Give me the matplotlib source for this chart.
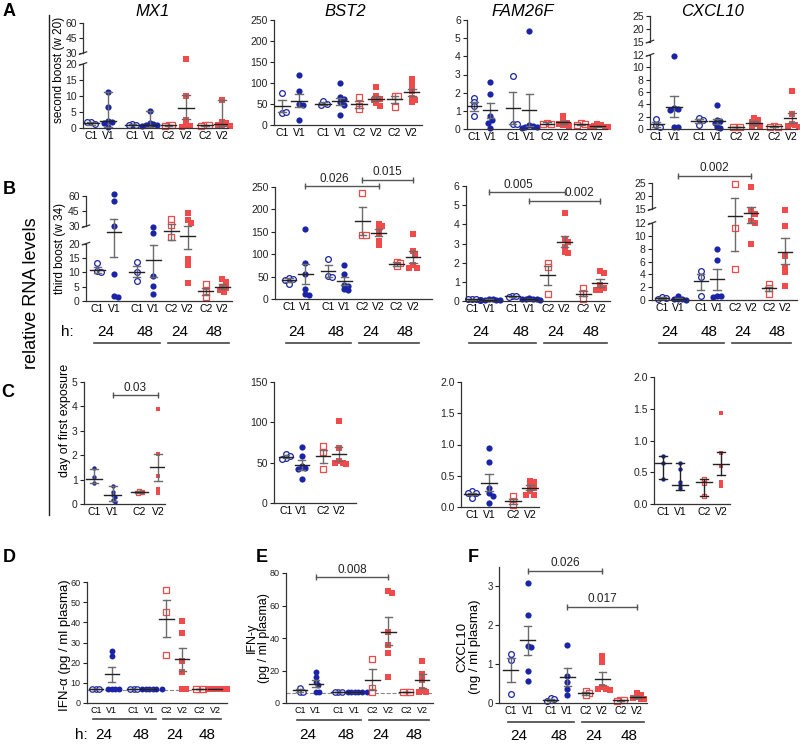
import numpy as np
import matplotlib
matplotlib.use("Agg")
import matplotlib.pyplot as plt

plt.rcParams['font.family'] = ['Liberation Sans', 'DejaVu Sans']

BLUE = '#1a24a6'
RED = '#f04a4a'
GREY = '#6b6b6b'
W, H = 800, 745

grp8 = ['C1', 'V1', 'C1', 'V1', 'C2', 'V2', 'C2', 'V2']
grp4 = ['C1', 'V1', 'C2', 'V2']
pos8 = [0, 1, 2.4, 3.4, 4.5, 5.5, 6.6, 7.6]
pos4 = [0, 1, 2.4, 3.4]
hours = ['24', '48', '24', '48']

# ---- row A : second boost (w 20)
a_mx1_pts = [[2.0, 1.2, 1.8], [11.2, 6.6, 2.3, 1.9, 1.5, 0.3], [1.2, 1.0, 1.0],
             [5.3, 1.6, 1.2, 1.0, 0.8, 0.5], [0.9, 0.8, 0.7], [25, 10, 2.5, 1.0, 0.6, 0.3],
             [1.0, 0.8, 0.6], [8.8, 2.0, 1.5, 1.0, 0.8, 0.6]]
a_mx1_mid = [1.5, 2.2, 1.0, 1.0, 0.8, 6.4, 0.8, 1.3]
a_mx1_lo = [1.0, 0.2, 0.9, 0.3, 0.6, 2.7, 0.6, 0.5]
a_mx1_hi = [2.0, 11.2, 1.2, 5.3, 1.0, 10.2, 1.0, 8.8]

a_bst2_pts = [[77, 28, 32], [120, 80, 50, 48, 13], [56, 50, 48], [99, 66, 62, 55, 48, 23],
              [66, 46, 37], [91, 68, 62, 60, 52, 45], [70, 68, 43], [110, 96, 80, 65, 60, 55]]
a_bst2_mid = [45, 58, 51, 56, 50, 63, 61, 78]
a_bst2_lo = [30, 42, 48, 47, 41, 56, 52, 70]
a_bst2_hi = [60, 73, 55, 65, 58, 70, 70, 86]

a_fam_pts = [[1.72, 1.5, 1.25, 0.72], [2.6, 1.95, 0.7, 0.5, 0.35, 0.05], [2.9, 0.28, 0.28],
             [5.4, 0.2, 0.15, 0.12, 0.1, 0.08], [0.35, 0.3, 0.28], [0.72, 0.45, 0.35, 0.3, 0.22, 0.15],
             [0.32, 0.28, 0.22], [0.25, 0.2, 0.15, 0.12, 0.1, 0.1]]
a_fam_mid = [1.25, 1.05, 1.13, 1.03, 0.3, 0.37, 0.27, 0.15]
a_fam_lo = [1.0, 0.62, 0.25, 0.15, 0.25, 0.28, 0.24, 0.12]
a_fam_hi = [1.5, 1.42, 2.03, 1.9, 0.36, 0.45, 0.3, 0.18]

a_cxcl_pts = [[1.6, 0.6, 0.35], [11.8, 3.4, 3.3, 3.0, 0.3, 0.3], [1.8, 1.4, 0.7],
              [3.9, 1.5, 1.3, 0.9, 0.3, 0.2], [0.4, 0.35, 0.3], [1.8, 1.4, 1.2, 0.8, 0.5, 0.4],
              [0.5, 0.4, 0.4], [6.2, 2.5, 0.8, 0.6, 0.5, 0.4]]
a_cxcl_mid = [0.8, 3.6, 1.3, 1.3, 0.35, 1.0, 0.43, 1.8]
a_cxcl_lo = [0.4, 2.0, 0.9, 0.8, 0.3, 0.7, 0.38, 0.9]
a_cxcl_hi = [1.2, 5.4, 1.6, 1.7, 0.4, 1.3, 0.48, 2.6]

# ---- row B : third boost (w 34)
b_mx1_pts = [[13.3, 10.5, 10.2], [62, 55, 30, 9.5, 1.6, 1.4], [13.7, 10.2, 7.0],
             [29.5, 26.0, 8.6, 5.3, 2.6], [37, 31, 24], [43, 36, 33, 14.5, 12.5, 6.3],
             [5.8, 3.2, 1.5], [7.5, 6.5, 5.0, 4.5, 3.8, 3.2]]
b_mx1_mid = [10.8, 26.6, 10.2, 14.4, 27, 24.3, 3.5, 5.0]
b_mx1_lo = [9.8, 15.5, 8.2, 8.5, 22, 18, 2.2, 4.2]
b_mx1_hi = [11.8, 37.5, 12.2, 19.6, 32, 30, 4.6, 5.8]

b_bst2_pts = [[47, 45, 43, 33], [156, 80, 55, 22, 12, 10], [89, 52, 50], [75, 55, 32, 30, 22, 20],
              [236, 143, 143], [168, 163, 155, 145, 130, 120], [82, 80, 73], [145, 108, 100, 75, 70, 70]]
b_bst2_mid = [42, 56, 62, 40, 174, 148, 78, 94]
b_bst2_lo = [38, 33, 48, 31, 143, 140, 74, 80]
b_bst2_hi = [46, 79, 76, 48, 205, 156, 82, 108]

b_fam_pts = [[0.1, 0.08, 0.08, 0.05], [0.1, 0.08, 0.06, 0.05, 0.04, 0.03], [0.28, 0.25, 0.2],
             [0.15, 0.12, 0.1, 0.1, 0.08, 0.05], [2.0, 1.75, 0.35], [4.6, 3.25, 3.1, 2.8, 2.55, 2.5],
             [0.7, 0.4, 0.1], [1.55, 1.45, 0.85, 0.7, 0.6, 0.55]]
b_fam_mid = [0.08, 0.06, 0.24, 0.1, 1.37, 3.1, 0.38, 0.95]
b_fam_lo = [0.06, 0.05, 0.2, 0.08, 0.85, 2.8, 0.25, 0.75]
b_fam_hi = [0.1, 0.08, 0.28, 0.12, 1.85, 3.4, 0.52, 1.15]

b_cxcl_pts = [[0.5, 0.3, 0.2], [0.7, 0.2, 0.1, 0.1, 0.05], [4.5, 3.6, 0.6], [8.0, 6.3, 0.6, 0.55, 0.5],
              [24.5, 11.2, 4.8], [23.3, 14.5, 14.0, 12.5, 12.0, 8.7], [2.5, 1.8, 1.0],
              [14.8, 11.6, 6.8, 5.1, 4.4, 2.2]]
b_cxcl_mid = [0.3, 0.2, 2.9, 3.2, 13.5, 14.2, 1.8, 7.5]
b_cxcl_lo = [0.2, 0.1, 1.6, 1.5, 7.7, 12.0, 1.4, 5.6]
b_cxcl_hi = [0.4, 0.3, 4.0, 4.8, 19.3, 15.7, 2.1, 9.6]

# ---- row C : day of first exposure
c_mx1_pts = [[1.47, 1.1, 0.85], [0.72, 0.5, 0.35, 0.3, 0.18, 0.1], [0.55, 0.48, 0.45],
             [3.9, 2.05, 1.15, 0.6, 0.45]]
c_mx1_mid = [1.02, 0.35, 0.48, 1.5]
c_mx1_lo = [0.85, 0.12, 0.45, 0.95]
c_mx1_hi = [1.45, 0.72, 0.55, 2.05]

c_bst2_pts = [[61, 58, 56, 55], [70, 58, 46, 44, 42, 30], [71, 63, 42], [102, 68, 52, 50, 49, 48]]
c_bst2_mid = [57, 47, 58, 61]
c_bst2_lo = [56, 41, 50, 52]
c_bst2_hi = [59, 53, 66, 70]

c_fam_pts = [[0.26, 0.22, 0.22, 0.15], [0.94, 0.72, 0.3, 0.22, 0.17, 0.07], [0.17, 0.1, 0.03],
             [0.42, 0.4, 0.35, 0.3, 0.25, 0.2, 0.2]]
c_fam_mid = [0.21, 0.39, 0.09, 0.31]
c_fam_lo = [0.19, 0.25, 0.05, 0.27]
c_fam_hi = [0.23, 0.53, 0.13, 0.35]

c_cxcl_pts = [[0.75, 0.65, 0.4], [0.65, 0.55, 0.35, 0.3, 0.25], [0.4, 0.33, 0.12],
              [1.44, 0.8, 0.6, 0.35, 0.28]]
c_cxcl_mid = [0.65, 0.3, 0.34, 0.63]
c_cxcl_lo = [0.4, 0.22, 0.12, 0.45]
c_cxcl_hi = [0.75, 0.65, 0.4, 0.82]

# ---- plasma proteins
d_ifna_pts = [[7, 7, 7], [26, 23.5, 7, 7, 7, 7], [7, 7, 7], [7, 7, 7, 7, 7, 7],
              [56, 45, 24], [40.5, 34.5, 21, 15.5, 7, 7], [7, 7, 7], [7, 7, 7, 7, 7, 7]]
d_ifna_mid = [7, 14.2, 7, 7, 41.7, 21.6, 7, 7]
d_ifna_lo = [7, 10.5, 7, 7, 32.5, 16, 7, 7]
d_ifna_hi = [7, 18, 7, 7, 51, 27.3, 7, 7]

e_ifng_pts = [[9.5, 7, 7], [19, 16, 13, 11, 7, 7], [7, 7, 7], [7, 7, 7, 7, 7, 7],
              [27, 9.5, 7], [69, 68, 44, 36, 31, 16], [7, 7, 7], [26, 18, 14, 8, 7, 7]]
e_ifng_mid = [7.8, 12, 7, 7, 14.3, 44, 7, 14]
e_ifng_lo = [7, 10, 7, 7, 8, 36, 7, 9]
e_ifng_hi = [8.6, 14, 7, 7, 21, 53, 7, 18]

f_cxcl_pts = [[1.25, 1.1, 0.23], [3.08, 2.27, 1.47, 1.45, 0.83, 0.57], [0.12, 0.1, 0.04],
              [1.48, 0.7, 0.55, 0.35, 0.2], [0.3, 0.25, 0.2], [1.22, 1.05, 0.4, 0.35, 0.35, 0.33],
              [0.08, 0.07, 0.06], [0.25, 0.2, 0.15, 0.12, 0.1, 0.1]]
f_cxcl_mid = [0.86, 1.61, 0.08, 0.66, 0.25, 0.62, 0.07, 0.15]
f_cxcl_lo = [0.55, 1.23, 0.05, 0.43, 0.21, 0.46, 0.06, 0.12]
f_cxcl_hi = [1.17, 1.98, 0.11, 0.9, 0.29, 0.79, 0.08, 0.18]

fig = plt.figure(figsize=(W / 100, H / 100), dpi=100)


def fpx(l, r, t, b):
    return [l / W, 1 - b / H, (r - l) / W, (b - t) / H]


def piecewise(xs, fs):
    xs = np.asarray(xs, float)
    fs = np.asarray(fs, float)

    def f(v):
        v = np.asarray(v, float)
        out = np.interp(v, xs, fs)
        out = np.where(v < xs[0], fs[0] + (v - xs[0]) * (fs[1] - fs[0]) / (xs[1] - xs[0]), out)
        out = np.where(v > xs[-1], fs[-1] + (v - xs[-1]) * (fs[-1] - fs[-2]) / (xs[-1] - xs[-2]), out)
        return out
    return f


def swarm(ax, x0, vals, dpx):
    # small beeswarm: nudge overlapping points sideways
    ys = ax.transData.transform(np.column_stack([np.full(len(vals), x0), vals]))[:, 1]
    ppu = ax.bbox.width / (ax.get_xlim()[1] - ax.get_xlim()[0])
    placed, offs = [], []
    for y in ys:
        k = 0
        while True:
            c = (k + 1) // 2 * 0.3 * dpx * (1 if k % 2 else -1) if k else 0.0
            if all(np.hypot(c - px, y - py) >= 0.6 * dpx for px, py in placed):
                break
            k += 1
        placed.append((c, y))
        offs.append(c / ppu)
    return np.array(offs)


def panel(box, pts, mid, lo, hi, yticks, xlim, ytop=None, brk=None, labels=grp8, pos=pos8,
          opens=None, size=20, lab_fs=7.5, err_col=GREY, ytl=None):
    ax = fig.add_axes(fpx(*box))
    n = len(labels)
    cols = [BLUE] * (n // 2) + [RED] * (n // 2)
    marks = ['o'] * (n // 2) + ['s'] * (n // 2)
    if opens is None:
        opens = [i % 2 == 0 for i in range(n)]
    if brk is not None:
        ax.set_yscale('function', functions=(piecewise(*brk), piecewise(brk[1], brk[0])))
    ax.set_xlim(*xlim)
    ax.set_ylim(0, ytop if ytop is not None else yticks[-1])
    ax.set_yticks(yticks)
    ax.set_yticklabels(ytl if ytl is not None else [str(t) for t in yticks])
    ax.set_xticks(pos)
    ax.set_xticklabels(labels)
    ax.tick_params(axis='x', length=0, labelsize=lab_fs, pad=2)
    ax.tick_params(axis='y', length=3, width=0.8, labelsize=lab_fs, pad=1.5, colors='#222')
    ax.yaxis.set_minor_locator(matplotlib.ticker.NullLocator())
    for s in ['top', 'right']:
        ax.spines[s].set_visible(False)
    for s in ['left', 'bottom']:
        ax.spines[s].set_color('#333')
        ax.spines[s].set_linewidth(0.9)
    dpx = np.sqrt(size) * 100 / 72
    for i in range(n):
        v = np.asarray(pts[i], float)
        dx = swarm(ax, pos[i], v, dpx)
        if opens[i]:
            ax.scatter(pos[i] + dx, v, s=size * 0.85, marker=marks[i], facecolors='white',
                       edgecolors=cols[i], linewidths=0.9, zorder=2, clip_on=False)
        else:
            ax.scatter(pos[i] + dx, v, s=size, marker=marks[i], color=cols[i], lw=0, zorder=2,
                       clip_on=False)
        x = pos[i]
        ax.plot([x, x], [lo[i], hi[i]], color=err_col, lw=1, zorder=3)
        ax.plot([x - 0.22, x + 0.22], [lo[i], lo[i]], color=err_col, lw=1, zorder=3)
        ax.plot([x - 0.22, x + 0.22], [hi[i], hi[i]], color=err_col, lw=1, zorder=3)
        ax.plot([x - 0.45, x + 0.45], [mid[i], mid[i]], color='#222', lw=1, zorder=3)
    if brk is not None:
        ax.spines['left'].set_visible(False)
        xs = brk[0]
        tr = ax.get_yaxis_transform()
        ax.plot([0, 0], [0, xs[1]], color='#333', lw=0.9, transform=tr, clip_on=False)
        ax.plot([0, 0], [xs[2], xs[3]], color='#333', lw=0.9, transform=tr, clip_on=False)
        inv = ax.transAxes.inverted()
        for yv in (xs[1], xs[2]):
            yf = inv.transform(ax.transData.transform((xlim[0], yv)))[1]
            ax.plot([-0.025, 0.025], [yf - 0.012, yf + 0.012], color='#333', lw=0.9,
                    transform=ax.transAxes, clip_on=False)
    return ax


def sig(ax, pos, i0, i1, y, txt, dx=0.0, fs=8.5):
    ax.plot([pos[i0], pos[i1]], [y, y], color='#555', lw=1, marker='|', ms=5, mew=1,
            clip_on=False, zorder=4)
    ax.annotate(txt, (0.5 * (pos[i0] + pos[i1]) + dx, y), xytext=(0, 1), textcoords='offset points',
                ha='center', va='bottom', fontsize=fs, color='#222', annotation_clip=False)


def hrow(ax, box, ytext, yline, pos=pos8, fs=11):
    tr = ax.get_xaxis_transform()
    ft = (box[3] - ytext) / (box[3] - box[2])
    fl = (box[3] - yline) / (box[3] - box[2])
    for k, (a, b) in enumerate([(0, 3), (4, 7)]):
        ax.plot([pos[a] - 0.2, pos[b] + 0.4], [fl, fl], color='#444', lw=1.2, transform=tr,
                clip_on=False)
        ax.text(0.5 * (pos[a] + pos[a + 1]), ft, hours[2 * k], transform=tr, ha='center',
                va='center', fontsize=fs)
        ax.text(0.5 * (pos[b - 1] + pos[b]), ft, hours[2 * k + 1], transform=tr, ha='center',
                va='center', fontsize=fs)


# ---------- row A
box = (83, 228, 23, 128)
ax = panel(box, a_mx1_pts, a_mx1_mid, a_mx1_lo, a_mx1_hi, [0, 5, 10, 15, 20, 30, 45, 60],
           (-0.46, 7.94), brk=([0, 20, 30, 60], [0, 20, 23.4, 32.8]))
box = (274, 422, 20, 125)
panel(box, a_bst2_pts, a_bst2_mid, a_bst2_lo, a_bst2_hi, [0, 50, 100, 150, 200, 250], (-0.47, 8.2))
box = (467, 607, 20, 129)
panel(box, a_fam_pts, a_fam_mid, a_fam_lo, a_fam_hi, [0, 1, 2, 3, 4, 5, 6], (-0.43, 8.2))
box = (650, 797, 16, 129)
panel(box, a_cxcl_pts, a_cxcl_mid, a_cxcl_lo, a_cxcl_hi, [0, 2, 4, 6, 8, 10, 12, 15, 20, 25],
      (-0.34, 7.9), brk=([0, 12, 15, 25], [0, 12, 14.16, 18.3]))

# ---------- row B
box = (86, 232, 196, 301)
ax = panel(box, b_mx1_pts, b_mx1_mid, b_mx1_lo, b_mx1_hi, [0, 5, 10, 15, 20, 30, 45, 60],
           (-0.7, 8.2), brk=([0, 20, 30, 60], [0, 20, 26.05, 36.6]))
hrow(ax, box, 332, 343)
box = (275, 432, 187, 299)
ax = panel(box, b_bst2_pts, b_bst2_mid, b_bst2_lo, b_bst2_hi, [0, 50, 100, 150, 200, 250],
           (-0.86, 8.77))
sig(ax, pos8, 1, 5, 252, '0.026', dx=-0.5)
sig(ax, pos8, 4, 7, 266, '0.015')
hrow(ax, box, 332, 343)
box = (466, 610, 186, 301)
ax = panel(box, b_fam_pts, b_fam_mid, b_fam_lo, b_fam_hi, [0, 1, 2, 3, 4, 5, 6], (-0.36, 8.2))
sig(ax, pos8, 1, 5, 5.67, '0.005', dx=-0.5)
sig(ax, pos8, 3, 7, 5.23, '0.002', dx=0.9)
hrow(ax, box, 332, 343)
box = (652, 797, 183, 300)
ax = panel(box, b_cxcl_pts, b_cxcl_mid, b_cxcl_lo, b_cxcl_hi, [0, 2, 4, 6, 8, 10, 12, 15, 20, 25],
           (-0.62, 8.34), brk=([0, 12, 15, 25], [0, 12, 14.19, 18.25]))
sig(ax, pos8, 1, 5, 27.8, '0.002')
hrow(ax, box, 332, 343)

# ---------- row C
box = (84, 165, 382, 504)
ax = panel(box, c_mx1_pts, c_mx1_mid, c_mx1_lo, c_mx1_hi, [0, 1, 2, 3, 4, 5], (-0.53, 3.77),
           labels=grp4, pos=pos4, opens=[False, False, True, False], size=10)
sig(ax, pos4, 1, 3, 4.45, '0.03')
box = (274, 356, 382, 503)
panel(box, c_bst2_pts, c_bst2_mid, c_bst2_lo, c_bst2_hi, [0, 50, 100, 150], (-0.77, 4.5),
      labels=grp4, pos=pos4)
box = (461, 539, 382, 507)
panel(box, c_fam_pts, c_fam_mid, c_fam_lo, c_fam_hi, [0, 0.5, 1.0, 1.5, 2.0], (-0.65, 3.93),
      labels=grp4, pos=pos4, ytl=['0.0', '0.5', '1.0', '1.5', '2.0'])
box = (654, 730, 377, 504)
panel(box, c_cxcl_pts, c_cxcl_mid, c_cxcl_lo, c_cxcl_hi, [0, 0.5, 1.0, 1.5, 2.0], (-0.53, 3.93),
      labels=grp4, pos=pos4, opens=[False, False, True, False], size=10, err_col='#222',
      ytl=['0.0', '0.5', '1.0', '1.5', '2.0'])

# ---------- row D / E / F
box = (87, 227, 582, 703)
ax = panel(box, d_ifna_pts, d_ifna_mid, d_ifna_lo, d_ifna_hi, [0, 10, 20, 30, 40, 50, 60],
           (-0.57, 8.36), size=18, lab_fs=6.5)
ax.axhline(6.2, ls='--', color='#888', lw=0.8, zorder=1)
hrow(ax, box, 735, 719)
box = (286, 433, 573, 703)
ax = panel(box, e_ifng_pts, e_ifng_mid, e_ifng_lo, e_ifng_hi, [0, 20, 40, 60, 80],
           (-0.86, 8.27), size=18, lab_fs=6.5)
ax.axhline(6.2, ls='--', color='#888', lw=0.8, zorder=1)
sig(ax, pos8, 1, 5, 77.5, '0.008')
hrow(ax, box, 735, 720)
box = (499, 647, 567, 703)
ax = panel(box, f_cxcl_pts, f_cxcl_mid, f_cxcl_lo, f_cxcl_hi, [0, 1, 2, 3], (-0.72, 8.2),
           ytop=3.5, size=20, lab_fs=7)
sig(ax, pos8, 1, 5, 3.4, '0.026')
sig(ax, pos8, 3, 7, 2.48, '0.017')
hrow(ax, box, 736, 722)


# ---------- titles and labels (figure pixel coordinates)
def ftext(x, y, s, **kw):
    fig.text(x / W, 1 - y / H, s, **kw)


for x, t in [(153, 'MX1'), (345, 'BST2'), (523, 'FAM26F'), (713, 'CXCL10')]:
    ftext(x, 12, t, ha='center', va='center', fontsize=12, style='italic')
for x, y, t in [(9, 12, 'A'), (9, 190, 'B'), (8, 393, 'C'), (9, 557, 'D'), (262, 557, 'E'),
                (473, 557, 'F')]:
    ftext(x, y, t, ha='center', va='center', fontsize=13, weight='bold')
ftext(67, 332, 'h:', ha='center', va='center', fontsize=11)
ftext(81, 735, 'h:', ha='center', va='center', fontsize=11)
ftext(32, 293, 'relative RNA levels', ha='center', va='center', rotation=90, fontsize=13)
fig.add_artist(plt.Line2D([49 / W, 49 / W], [1 - 15 / H, 1 - 515 / H], color='#222', lw=1))
ftext(59, 70, 'second boost (w 20)', ha='center', va='center', rotation=90, fontsize=8.5)
ftext(60, 248, 'third boost (w 34)', ha='center', va='center', rotation=90, fontsize=8.5)
ftext(65, 420, 'day of first exposure', ha='center', va='center', rotation=90, fontsize=9)
ftext(65, 645, 'IFN-α (pg / ml plasma)', ha='center', va='center', rotation=90, fontsize=9.5)
ftext(258, 638, 'IFN-γ\n(pg / ml plasma)', ha='center', va='center', rotation=90, fontsize=9,
      linespacing=1.05)
ftext(469, 647, 'CXCL10\n(ng / ml plasma)', ha='center', va='center', rotation=90, fontsize=9.5,
      linespacing=1.05)

fig.savefig('out.png', dpi=100)
